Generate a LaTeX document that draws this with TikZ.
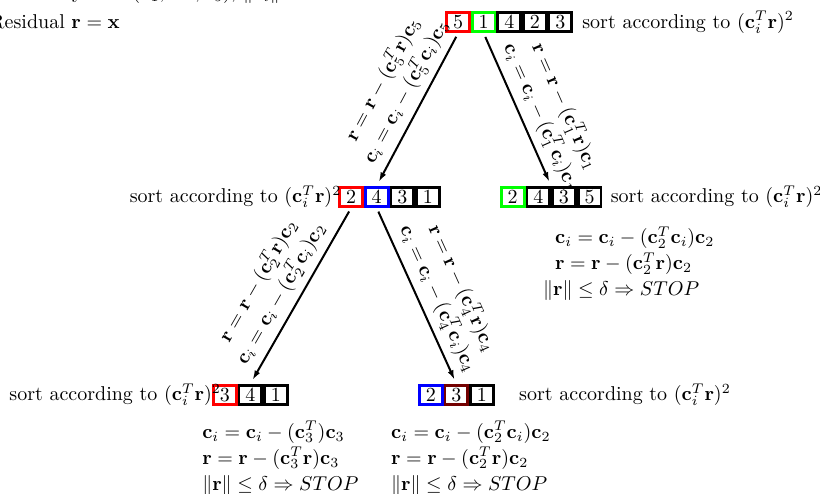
\documentclass[tikz,border=0pt]{standalone}
\usepackage{amsmath,amssymb}
\usetikzlibrary{arrows.meta,positioning}

\newcommand{\cv}{\mathbf{c}}
\newcommand{\rv}{\mathbf{r}}
\newcommand{\sortby}{sort according to $(\cv_i^T\rv)^2$}

\tikzset{
  cell/.style={draw,line width=1.4pt,minimum width=11.4pt,minimum height=9.7pt,inner sep=0pt},
  pick/.style={->,line width=1pt,shorten <=2pt,shorten >=2pt},
  upd/.style={sloped,above,align=center},
  stop/.style={align=left,anchor=west}
}

\begin{document}
\begin{tikzpicture}[>={Latex[length=5pt,width=3pt]}]
\useasboundingbox (0,0) rectangle (14.41,8.68);
% header
\node[anchor=base west] (dict) at (-0.3,8.70) {Dictionary $\mathbf{C}=(\cv_1,\ldots,\cv_5)$, $\|\cv_i\|=1$};
\node[anchor=west] (res) at (-0.3,8.29) {Residual $\rv=\mathbf{x}$};

% root
\node[cell,draw=red] (t5) at (8.05,8.29) {5};
\node[cell,draw=green,right=0pt of t5] (t1) {1};
\node[cell,right=0pt of t1] (t4) {4};
\node[cell,right=0pt of t4] (t2) {2};
\node[cell,right=0pt of t2] (t3) {3};
\node[right=1pt of t3] (tsort) {\sortby};

% second level
\node[cell,draw=red] (l2) at (6.17,5.22) {2};
\node[cell,draw=blue,right=0pt of l2] (l4) {4};
\node[cell,right=0pt of l4] (l3) {3};
\node[cell,right=0pt of l3] (l1) {1};
\node[left=-5pt of l2] (lsort) {\sortby};

\node[cell,draw=green] (r2) at (9.01,5.22) {2};
\node[cell,right=0pt of r2] (r4) {4};
\node[cell,right=0pt of r4] (r3) {3};
\node[cell,right=0pt of r3] (r5) {5};
\node[right=0.7pt of r5] (rsort) {\sortby};
\node[stop] (rstop) at (9.63,4.04) {$\cv_i=\cv_i-(\cv_2^T\cv_i)\cv_2$\\[1pt]
  $\rv=\rv-(\cv_2^T\rv)\cv_2$\\[1pt]
  \hspace*{-6pt}$\|\rv\|\leq\delta\Rightarrow STOP$};

% third level
\node[cell,draw=red] (a3) at (3.95,1.74) {3};
\node[cell,right=0pt of a3] (a4) {4};
\node[cell,right=0pt of a4] (a1) {1};
\node[left=-8pt of a3] (asort) {\sortby};
\node[stop] (astop) at (3.43,0.63) {$\cv_i=\cv_i-(\cv_3^T)\cv_3$\\[1pt]
  $\rv=\rv-(\cv_3^T\rv)\cv_3$\\[1pt]
  $\|\rv\|\leq\delta\Rightarrow STOP$};

\node[cell,draw=blue] (b2) at (7.57,1.74) {2};
\node[cell,draw=red!45!black,right=0pt of b2] (b3) {3};
\node[cell,right=0pt of b3] (b1) {1};
\node[right=8.7pt of b1] (bsort) {\sortby};
\node[stop] (bstop) at (6.75,0.63) {$\cv_i=\cv_i-(\cv_2^T\cv_i)\cv_2$\\[1pt]
  $\rv=\rv-(\cv_2^T\rv)\cv_2$\\[1pt]
  $\|\rv\|\leq\delta\Rightarrow STOP$};

% branches
\draw[pick] (t5.south) -- (l4.north) node[upd,pos=.44] {$\rv=\rv-(\cv_5^T\rv)\cv_5$\\[1pt] $\cv_i=\cv_i-(\cv_5^T\cv_i)\cv_5$};
\draw[pick] (t1.south) -- (r4.north east) node[upd,pos=.6] {$\rv=\rv-(\cv_1^T\rv)\cv_1$\\[1pt] $\cv_i=\cv_i-(\cv_1^T\cv_i)\cv_1$};
\draw[pick] (l2.south) -- (a4.north) node[upd,pos=.54] {$\rv=\rv-(\cv_2^T\rv)\cv_2$\\[1pt] $\cv_i=\cv_i-(\cv_2^T\cv_i)\cv_2$};
\draw[pick] (l4.south) -- (b3.north) node[upd,pos=.56] {$\rv=\rv-(\cv_4^T\rv)\cv_4$\\[1pt] $\cv_i=\cv_i-(\cv_4^T\cv_i)\cv_4$};
\end{tikzpicture}
\end{document}
